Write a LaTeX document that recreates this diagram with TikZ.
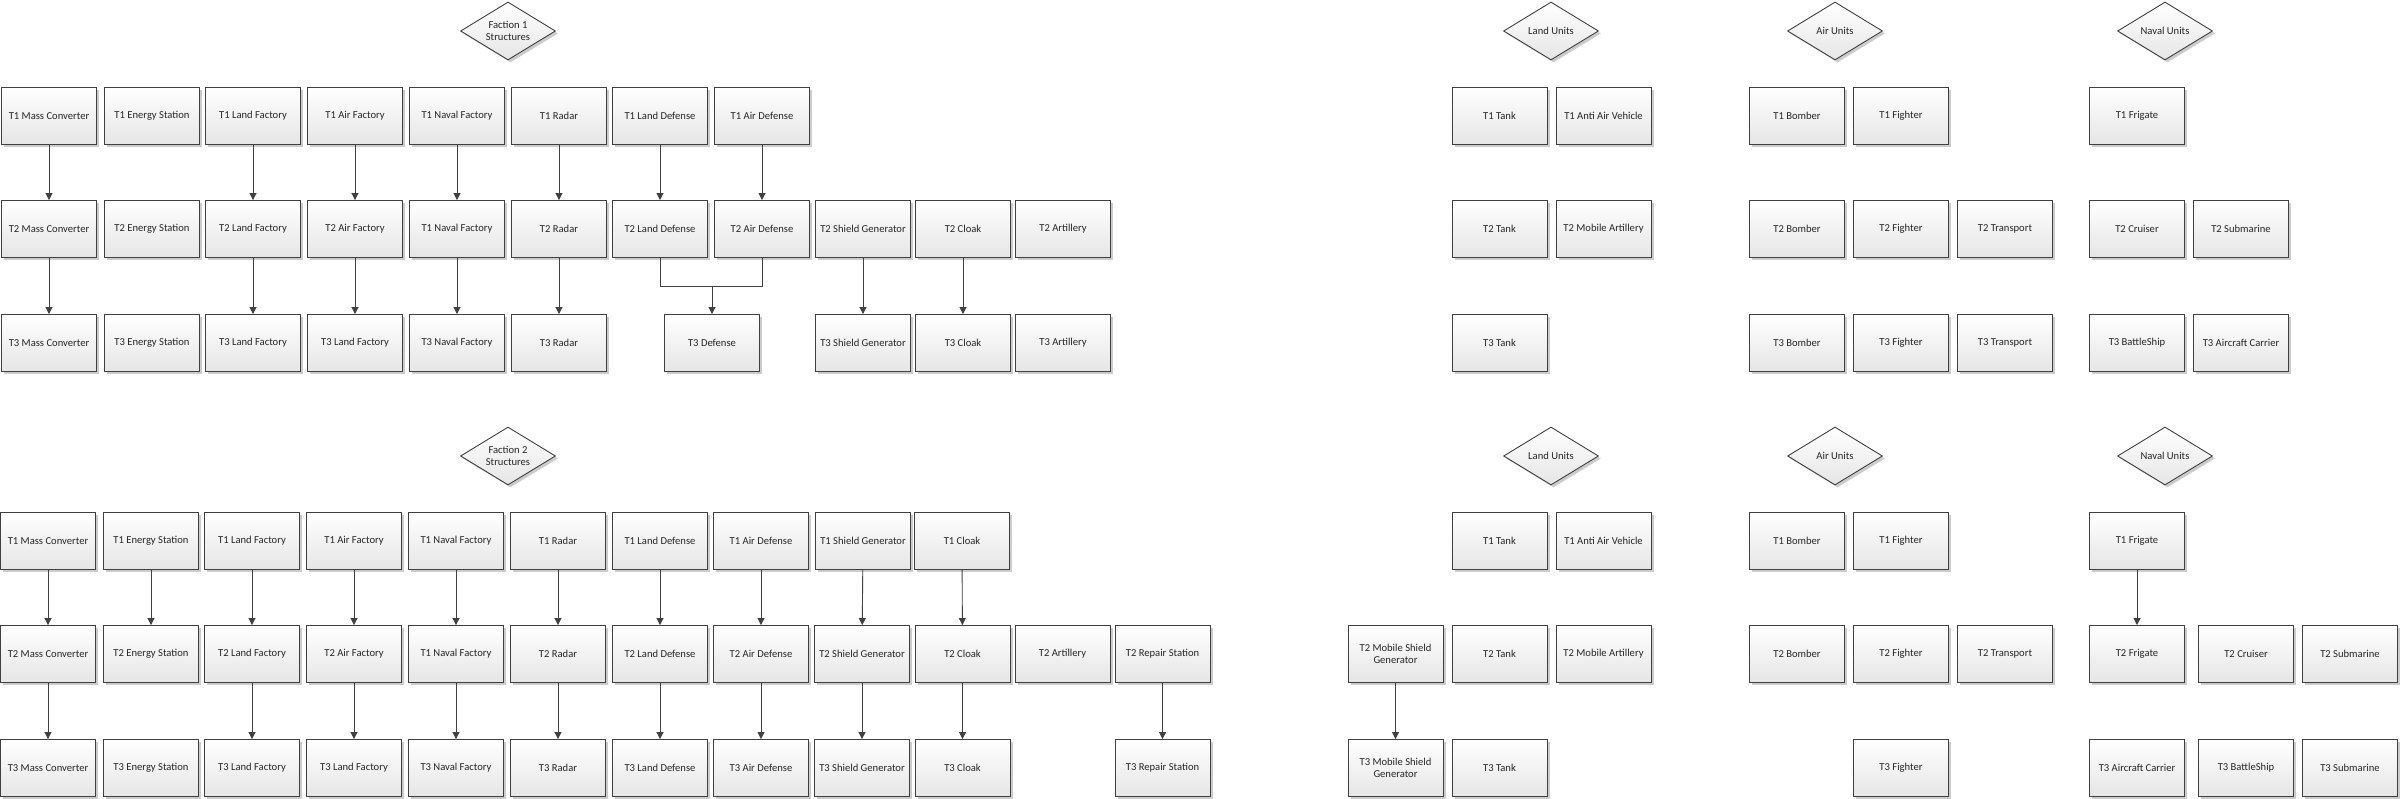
\documentclass[tikz,border=0pt]{standalone}
\usepackage{fontspec}
\setmainfont{Carlito}
\usetikzlibrary{shapes,arrows.meta,positioning,shadows}

\begin{document}
\begin{tikzpicture}[x=1pt, y=-1pt, >={Triangle[length=7pt,width=7pt]},
    box/.style={draw=black!75, line width=0.9pt, rectangle, minimum width=95pt, minimum height=57pt, inner sep=1pt, align=center,
      top color=white, bottom color=black!10, drop shadow={shadow xshift=2.5pt, shadow yshift=-2.5pt, fill=black!20, opacity=1},
      font=\fontsize{10.6}{12.7}\selectfont, text=black!85},
    hub/.style={box, diamond, aspect=1.64, minimum width=95pt, minimum height=58pt, inner sep=0pt},
    link/.style={->, draw=black!75, line width=0.9pt}]
    \useasboundingbox (0,0) rectangle (2400,799);

    % Faction 1
    \node [hub] (a-title) at (508,31) {Faction 1\\Structures};

    \node [box] (a-mc1) at (49,116) {T1 Mass Converter};
    \node [box] (a-es1) at (152,116) {T1 Energy Station};
    \node [box] (a-lf1) at (253,116) {T1 Land Factory};
    \node [box] (a-af1) at (355,116) {T1 Air Factory};
    \node [box] (a-nf1) at (457,116) {T1 Naval Factory};
    \node [box] (a-rd1) at (559,116) {T1 Radar};
    \node [box] (a-ld1) at (660,116) {T1 Land Defense};
    \node [box] (a-ad1) at (762,116) {T1 Air Defense};

    \node [box] (a-mc2) at (49,229) {T2 Mass Converter};
    \node [box] (a-es2) at (152,229) {T2 Energy Station};
    \node [box] (a-lf2) at (253,229) {T2 Land Factory};
    \node [box] (a-af2) at (355,229) {T2 Air Factory};
    \node [box] (a-nf2) at (457,229) {T1 Naval Factory};
    \node [box] (a-rd2) at (559,229) {T2 Radar};
    \node [box] (a-ld2) at (660,229) {T2 Land Defense};
    \node [box] (a-ad2) at (762,229) {T2 Air Defense};
    \node [box] (a-sg2) at (863,229) {T2 Shield Generator};
    \node [box] (a-ck2) at (963,229) {T2 Cloak};
    \node [box] (a-ar2) at (1063,229) {T2 Artillery};

    \node [box] (a-mc3) at (49,343) {T3 Mass Converter};
    \node [box] (a-es3) at (152,343) {T3 Energy Station};
    \node [box] (a-lf3) at (253,343) {T3 Land Factory};
    \node [box] (a-af3) at (355,343) {T3 Land Factory};
    \node [box] (a-nf3) at (457,343) {T3 Naval Factory};
    \node [box] (a-rd3) at (559,343) {T3 Radar};
    \node [box] (a-df3) at (712,343) {T3 Defense};
    \node [box] (a-sg3) at (863,343) {T3 Shield Generator};
    \node [box] (a-ck3) at (963,343) {T3 Cloak};
    \node [box] (a-ar3) at (1063,343) {T3 Artillery};

    \draw [link] (a-mc1) -- (a-mc2);
    \draw [link] (a-mc2) -- (a-mc3);
    \draw [link] (a-lf1) -- (a-lf2);
    \draw [link] (a-lf2) -- (a-lf3);
    \draw [link] (a-af1) -- (a-af2);
    \draw [link] (a-af2) -- (a-af3);
    \draw [link] (a-nf1) -- (a-nf2);
    \draw [link] (a-nf2) -- (a-nf3);
    \draw [link] (a-rd1) -- (a-rd2);
    \draw [link] (a-rd2) -- (a-rd3);
    \draw [link] (a-ld1) -- (a-ld2);
    \draw [link] (a-ad1) -- (a-ad2);
    \coordinate (a-join) at (712,286);
    \draw [link, -] (a-ld2.south) |- (a-join);
    \draw [link, -] (a-ad2.south) |- (a-join);
    \draw [link] (a-join) -- (a-df3);
    \draw [link] (a-sg2) -- (a-sg3);
    \draw [link] (a-ck2) -- (a-ck3);

    % Faction 1 units
    \node [hub] (a-land) at (1551,31) {Land Units};
    \node [hub] (a-air) at (1835,31) {Air Units};
    \node [hub] (a-naval) at (2165,31) {Naval Units};

    \node [box] (a-tk1) at (1499.5,116) {T1 Tank};
    \node [box] (a-aa1) at (1603.5,116) {T1 Anti Air Vehicle};
    \node [box] (a-bm1) at (1797,116) {T1 Bomber};
    \node [box] (a-fi1) at (1901,116) {T1 Fighter};
    \node [box] (a-fr1) at (2137,116) {T1 Frigate};

    \node [box] (a-tk2) at (1499.5,229) {T2 Tank};
    \node [box] (a-ma2) at (1603.5,229) {T2 Mobile Artillery};
    \node [box] (a-bm2) at (1797,229) {T2 Bomber};
    \node [box] (a-fi2) at (1901,229) {T2 Fighter};
    \node [box] (a-tr2) at (2005,229) {T2 Transport};
    \node [box] (a-cr2) at (2137,229) {T2 Cruiser};
    \node [box] (a-su2) at (2241,229) {T2 Submarine};

    \node [box] (a-tk3) at (1499.5,343) {T3 Tank};
    \node [box] (a-bm3) at (1797,343) {T3 Bomber};
    \node [box] (a-fi3) at (1901,343) {T3 Fighter};
    \node [box] (a-tr3) at (2005,343) {T3 Transport};
    \node [box] (a-bs3) at (2137,343) {T3 BattleShip};
    \node [box] (a-ac3) at (2241,343) {T3 Aircraft Carrier};

    % Faction 2
    \node [hub] (b-title) at (508,456) {Faction 2\\Structures};

    \node [box] (b-mc1) at (48,541) {T1 Mass Converter};
    \node [box] (b-es1) at (151,541) {T1 Energy Station};
    \node [box] (b-lf1) at (252,541) {T1 Land Factory};
    \node [box] (b-af1) at (354,541) {T1 Air Factory};
    \node [box] (b-nf1) at (456,541) {T1 Naval Factory};
    \node [box] (b-rd1) at (558,541) {T1 Radar};
    \node [box] (b-ld1) at (660,541) {T1 Land Defense};
    \node [box] (b-ad1) at (761,541) {T1 Air Defense};
    \node [box] (b-sg1) at (863,541) {T1 Shield Generator};
    \node [box] (b-ck1) at (962,541) {T1 Cloak};

    \node [box] (b-mc2) at (48,654) {T2 Mass Converter};
    \node [box] (b-es2) at (151,654) {T2 Energy Station};
    \node [box] (b-lf2) at (252,654) {T2 Land Factory};
    \node [box] (b-af2) at (354,654) {T2 Air Factory};
    \node [box] (b-nf2) at (456,654) {T1 Naval Factory};
    \node [box] (b-rd2) at (558,654) {T2 Radar};
    \node [box] (b-ld2) at (660,654) {T2 Land Defense};
    \node [box] (b-ad2) at (761,654) {T2 Air Defense};
    \node [box] (b-sg2) at (862,654) {T2 Shield Generator};
    \node [box] (b-ck2) at (962.5,654) {T2 Cloak};
    \node [box] (b-ar2) at (1062.5,654) {T2 Artillery};
    \node [box] (b-rs2) at (1162.5,654) {T2 Repair Station};

    \node [box] (b-mc3) at (48,768) {T3 Mass Converter};
    \node [box] (b-es3) at (151,768) {T3 Energy Station};
    \node [box] (b-lf3) at (252,768) {T3 Land Factory};
    \node [box] (b-af3) at (354,768) {T3 Land Factory};
    \node [box] (b-nf3) at (456,768) {T3 Naval Factory};
    \node [box] (b-rd3) at (558,768) {T3 Radar};
    \node [box] (b-ld3) at (660,768) {T3 Land Defense};
    \node [box] (b-ad3) at (761,768) {T3 Air Defense};
    \node [box] (b-sg3) at (862,768) {T3 Shield Generator};
    \node [box] (b-ck3) at (962.5,768) {T3 Cloak};
    \node [box] (b-rs3) at (1162.5,768) {T3 Repair Station};

    \draw [link] (b-mc1) -- (b-mc2);
    \draw [link] (b-mc2) -- (b-mc3);
    \draw [link] (b-es1) -- (b-es2);
    \draw [link] (b-lf1) -- (b-lf2);
    \draw [link] (b-lf2) -- (b-lf3);
    \draw [link] (b-af1) -- (b-af2);
    \draw [link] (b-af2) -- (b-af3);
    \draw [link] (b-nf1) -- (b-nf2);
    \draw [link] (b-nf2) -- (b-nf3);
    \draw [link] (b-rd1) -- (b-rd2);
    \draw [link] (b-rd2) -- (b-rd3);
    \draw [link] (b-ld1) -- (b-ld2);
    \draw [link] (b-ld2) -- (b-ld3);
    \draw [link] (b-ad1) -- (b-ad2);
    \draw [link] (b-ad2) -- (b-ad3);
    \draw [link] (b-sg1) -- (b-sg2);
    \draw [link] (b-sg2) -- (b-sg3);
    \draw [link] (b-ck1) -- (b-ck2);
    \draw [link] (b-ck2) -- (b-ck3);
    \draw [link] (b-rs2) -- (b-rs3);

    % Faction 2 units
    \node [hub] (b-land) at (1551,456) {Land Units};
    \node [hub] (b-air) at (1835,456) {Air Units};
    \node [hub] (b-naval) at (2165,456) {Naval Units};

    \node [box] (b-tk1) at (1499.5,541) {T1 Tank};
    \node [box] (b-aa1) at (1603.5,541) {T1 Anti Air Vehicle};
    \node [box] (b-bm1) at (1797,541) {T1 Bomber};
    \node [box] (b-fi1) at (1901,541) {T1 Fighter};
    \node [box] (b-fr1) at (2137,541) {T1 Frigate};

    \node [box] (b-ms2) at (1395.5,654) {T2 Mobile Shield\\Generator};
    \node [box] (b-tk2) at (1499.5,654) {T2 Tank};
    \node [box] (b-ma2) at (1603.5,654) {T2 Mobile Artillery};
    \node [box] (b-bm2) at (1797,654) {T2 Bomber};
    \node [box] (b-fi2) at (1901,654) {T2 Fighter};
    \node [box] (b-tr2) at (2005,654) {T2 Transport};
    \node [box] (b-fr2) at (2137,654) {T2 Frigate};
    \node [box] (b-cr2) at (2246,654) {T2 Cruiser};
    \node [box] (b-su2) at (2350,654) {T2 Submarine};

    \node [box] (b-ms3) at (1395.5,768) {T3 Mobile Shield\\Generator};
    \node [box] (b-tk3) at (1499.5,768) {T3 Tank};
    \node [box] (b-fi3) at (1901,768) {T3 Fighter};
    \node [box] (b-ac3) at (2137,768) {T3 Aircraft Carrier};
    \node [box] (b-bs3) at (2246,768) {T3 BattleShip};
    \node [box] (b-su3) at (2350,768) {T3 Submarine};

    \draw [link] (b-ms2) -- (b-ms3);
    \draw [link] (b-fr1) -- (b-fr2);
\end{tikzpicture}
\end{document}
